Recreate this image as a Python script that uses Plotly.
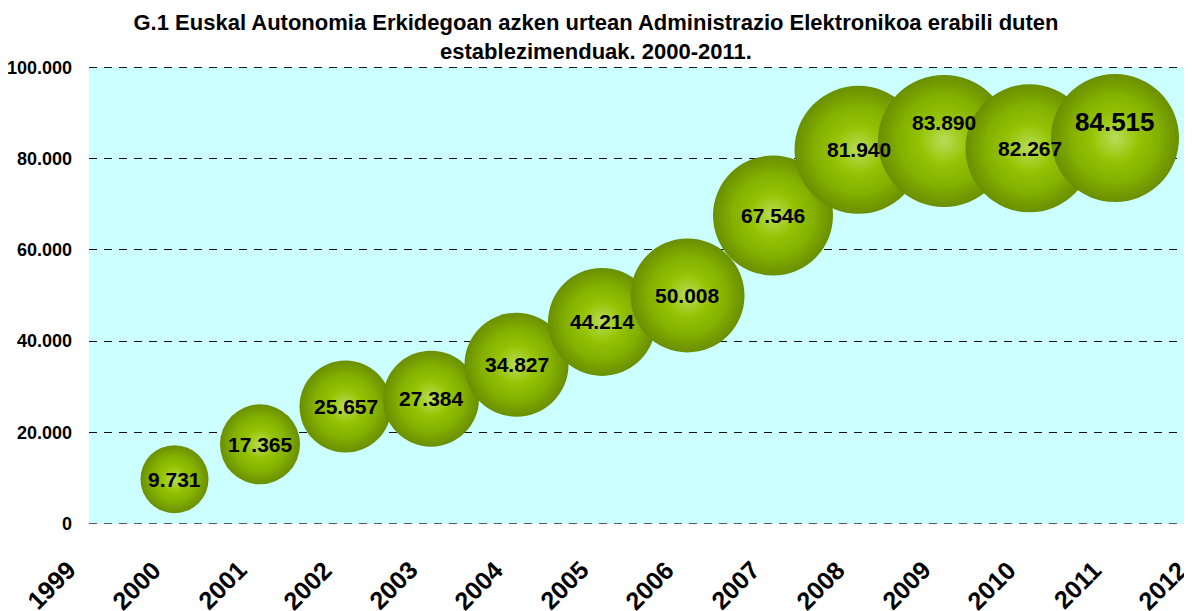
import plotly.graph_objects as go

# ---- data ----
years = [2000, 2001, 2002, 2003, 2004, 2005, 2006, 2007, 2008, 2009, 2010, 2011]
establishments = [9731, 17365, 25657, 27384, 34827, 44214, 50008, 67546, 81940, 83890, 82267, 84515]
bubble_size = [1156, 1600, 2116, 2304, 2704, 2916, 3249, 3600, 4096, 4356, 4096, 4096]
x_tick_labels = [1999, 2000, 2001, 2002, 2003, 2004, 2005, 2006, 2007, 2008, 2009, 2010, 2011, 2012]
y_ticks = [0, 20000, 40000, 60000, 80000, 100000]

FONT = "Liberation Sans, Arial, sans-serif"
X_RANGE = [1999, 1999 + 1111 / 85.5]

def fmt(v):
    return f"{v:,}".replace(",", ".")

fig = go.Figure()

# layered radial gradients (outer -> inner) for each bubble: (scale, edge colour, centre colour)
layers = [
    (1.00, "#6A8F00", "#B8F400"),
    (0.72, "#82AE00", "#A8D808"),
    (0.36, "#97C505", "#BADC5A"),
]
for i in range(len(years)):
    for scale, edge, center in layers:
        fig.add_trace(go.Scatter(
            x=[years[i]], y=[establishments[i]], mode="markers",
            marker=dict(size=[bubble_size[i] * scale * scale], sizemode="area", sizeref=0.5,
                        color=edge, gradient=dict(type="radial", color=center),
                        line=dict(width=0), opacity=1),
            hoverinfo="skip", showlegend=False, cliponaxis=False))

# value labels
for i in range(len(years)):
    special = years[i] in (2009, 2011)
    big = years[i] == 2011
    fig.add_annotation(
        x=years[i], y=establishments[i], xref="x", yref="y",
        text=fmt(establishments[i]), showarrow=False,
        font=dict(family=FONT, size=26 if big else 21, color="black", weight="bold"),
        yshift=(16 if big else 18) if special else 0)

# x tick labels (rotated), placed in paper x so the last one beyond the range still shows
for yr in x_tick_labels:
    fig.add_annotation(
        x=(yr - X_RANGE[0]) / (X_RANGE[1] - X_RANGE[0]), y=0, xref="paper", yref="y",
        text=str(yr), showarrow=False,
        textangle=-45, xanchor="center", yanchor="middle",
        xshift=-38, yshift=-61,
        font=dict(family=FONT, size=25, color="black", weight="bold"))

# dashed border lines at the bottom (0) and top (100.000) of the value range
fig.add_shape(type="line", xref="paper", x0=0, x1=1, yref="y", y0=y_ticks[0], y1=y_ticks[0],
              line=dict(color="#555555", width=1, dash="8px,7px"), layer="below")
fig.add_shape(type="line", xref="paper", x0=0, x1=1, yref="y", y0=y_ticks[-1], y1=y_ticks[-1],
              line=dict(color="#111111", width=1, dash="8px,7px"), layer="below")

fig.update_layout(
    width=1192, height=603,
    margin=dict(l=81, r=0, t=59, b=87),
    paper_bgcolor="white", plot_bgcolor="#CCFFFF",
    separators=",.",
    title=dict(
        text="G.1 Euskal Autonomia Erkidegoan azken urtean Administrazio Elektronikoa erabili duten<br>establezimenduak. 2000-2011.",
        x=(596 - 8) / 1192, xanchor="center", y=1 - 22 / 603, yanchor="top", yref="container",
        font=dict(family=FONT, size=22, color="black", weight="bold")),
    showlegend=False,
)
fig.update_xaxes(range=X_RANGE, showgrid=False, zeroline=False, automargin=False,
                 showticklabels=False, showline=False, ticks="")
fig.update_yaxes(range=[-100, 100100], tickvals=y_ticks, tickformat=",d", automargin=False,
                 showgrid=True, gridcolor="#111111", gridwidth=1, griddash="8px,7px",
                 zeroline=False, showline=False, ticks="", ticklabelstandoff=16,
                 tickfont=dict(family=FONT, size=18, color="black", weight="bold"))

fig.write_html("out.html")
